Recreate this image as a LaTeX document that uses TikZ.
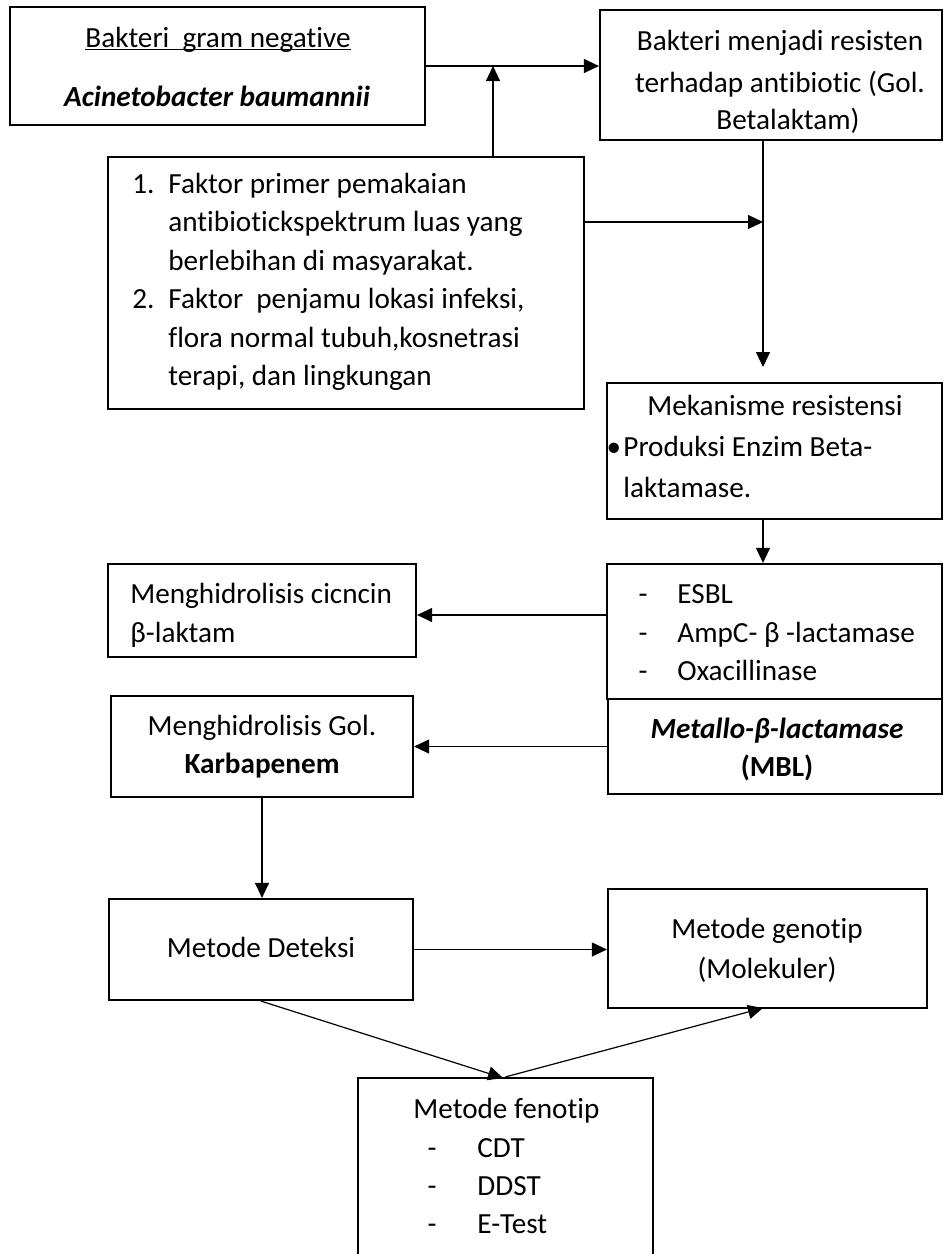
\documentclass[tikz,border=0pt]{standalone}
\usepackage{fontspec}
\setmainfont{Carlito}[Ligatures={NoCommon}]
\usetikzlibrary{fit,arrows.meta}
\newcommand\myul[1]{\setbox0\hbox{#1}\rlap{\rule[-1.6pt]{\wd0}{0.8pt}}\box0}
\begin{document}
\begin{tikzpicture}[x=0.5pt,y=-0.5pt,
  box/.style={draw, line width=1.1pt, inner sep=0pt},
  txt/.style={inner sep=0pt, anchor=base, font=\fontsize{14.6}{19}\selectfont},
  ltxt/.style={txt, anchor=base west},
  arr/.style={line width=0.6pt, -{Triangle[length=7.5pt,width=7pt]}}]
\useasboundingbox (0,0) rectangle (944,1254);
\clip (0,0) rectangle (944,1254);
% boxes
\node[box, fit={(10,7) (425,125)}] (A) {};
\node[box, fit={(600,10) (942,140)}] (B) {};
\node[box, fit={(108,157) (584,409)}] (C) {};
\node[box, fit={(607,383) (942,519)}] (D) {};
\node[box, fit={(607,564) (942,699)}] (E) {};
\node[box, fit={(608,699) (942,794)}] (H) {};
\node[box, fit={(108,564) (416,657)}] (F) {};
\node[box, fit={(111,696) (413,797)}] (G) {};
\node[box, fit={(109,899) (413,1000)}] (I) {};
\node[box, fit={(608,889) (927,1008)}] (J) {};
\node[box, fit={(358,1078) (653,1290)}] (K) {};
% texts
\node[txt] (a1) at (218,47) {\myul{Bakteri\ \ gram negative}};
\node[txt] (a2) at (217,106) {\textbf{\textit{Acinetobacter baumannii}}};
\node[txt] (b1) at (780,50) {Bakteri menjadi resisten};
\node[txt] (b2) at (780,92) {terhadap antibiotic (Gol.};
\node[txt] (b3) at (788,129) {Betalaktam)};
\node[ltxt] (c1n) at (132,193) {1.};
\node[ltxt] (c1) at (168,193) {Faktor primer pemakaian};
\node[ltxt] (c2) at (168,231.5) {antibiotickspektrum luas yang};
\node[ltxt] (c3) at (168,270) {berlebihan di masyarakat.};
\node[ltxt] (c4n) at (132,308.5) {2.};
\node[ltxt] (c4) at (168,308.5) {Faktor\ \ penjamu lokasi infeksi,};
\node[ltxt] (c5) at (168,347) {flora normal tubuh,kosnetrasi};
\node[ltxt] (c6) at (168,385.5) {terapi, dan lingkungan};
\node[txt] (d1) at (775,415) {Mekanisme resistensi};
\node[txt] (d2b) at (614,456) {•};
\node[ltxt] (d2) at (623,456) {Produksi Enzim Beta-};
\node[ltxt] (d3) at (623,497) {laktamase.};
\node[txt] (e1d) at (643,603) {-};
\node[ltxt] (e1) at (677,603) {ESBL};
\node[txt] (e2d) at (643,642) {-};
\node[ltxt] (e2) at (677,642) {AmpC- β -lactamase};
\node[txt] (e3d) at (643,680) {-};
\node[ltxt] (e3) at (677,680) {Oxacillinase};
\node[txt] (h1) at (777,738) {\textbf{\textit{Metallo-β-lactamase}}};
\node[txt] (h2) at (777,776) {\textbf{(MBL)}};
\node[ltxt] (f1) at (130,603) {Menghidrolisis cicncin};
\node[ltxt] (f2) at (130,642) {β-laktam};
\node[txt] (g1) at (262,735) {Menghidrolisis Gol.};
\node[txt] (g2) at (262,773) {\textbf{Karbapenem}};
\node[txt] (i1) at (261,957) {Metode Deteksi};
\node[txt] (j1) at (767,938) {Metode genotip};
\node[txt] (j2) at (767,978) {(Molekuler)};
\node[ltxt] (k1) at (413,1118) {Metode fenotip};
\node[txt] (k2d) at (432,1157) {-};
\node[ltxt] (k2) at (477,1157) {CDT};
\node[txt] (k3d) at (432,1195) {-};
\node[ltxt] (k3) at (477,1195) {DDST};
\node[txt] (k4d) at (432,1233) {-};
\node[ltxt] (k4) at (477,1233) {E-Test};
% junction coordinates
\coordinate (p1) at (493,66);
\coordinate (p2) at (763,367);
\coordinate (p3) at (763,222);
\coordinate (p4) at (503,1078);
\coordinate (p5) at (763,1008);
% connectors
\draw[arr] (A.east) -- (A.east -| B.west);
\draw[arr] (C.north -| p1) -- (p1);
\draw[arr] (B.south -| p2) -- (p2);
\draw[arr] (C.east |- p3) -- (p3);
\draw[arr] (D.south -| p2) -- (E.north -| p2);
\draw[arr] (E.west |- 0,615) -- (F.east |- 0,615);
\draw[arr] (H.west) -- (G.east);
\draw[arr] (G.south) -- (G.south |- I.north);
\draw[arr] (I.east) -- (I.east -| J.west);
\draw[arr] (I.south) -- (p4);
\draw[arr] (K.north) -- (p5);
\end{tikzpicture}
\end{document}
